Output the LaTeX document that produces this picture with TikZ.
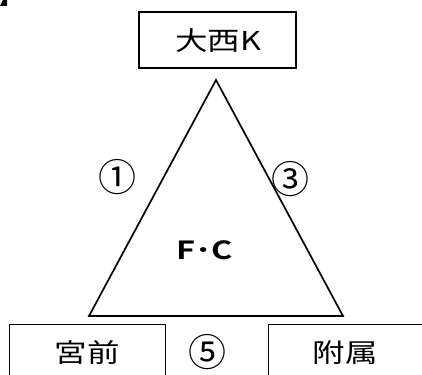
\documentclass[tikz,border=0pt]{standalone}
\usepackage{fontspec}
\setmainfont{Noto Sans CJK JP}
\newfontfamily\jpbold{Noto Sans CJK JP Bold}
\newcommand{\wide}[1]{\scalebox{1.25}[1]{#1}}
\newcommand{\wider}[1]{\scalebox{1.3}[1]{#1}}
\begin{document}
\begin{tikzpicture}[x=1pt,y=1pt,
  box/.style={draw=black, line width=1.3pt, fill=white, inner sep=0pt},
  lbl/.style={inner sep=0pt, font=\fontsize{26}{28}\selectfont},
  num/.style={inner sep=0pt, font=\fontsize{38}{40}\selectfont}]
\useasboundingbox (0,0) rectangle (422,374);
\clip (0,0) rectangle (422,374);
% corner mark
\fill[black] (0,368) -- (7,368) -- (7,374) -- (3,374) -- cycle;
% top box
\node[box, minimum width=157pt, minimum height=56pt] (top) at (217.5,334) {};
\node[lbl] (topt) at (218,333) {\wide{大西K}};
% triangle
\coordinate (apex) at (216,294);
\coordinate (bl) at (89,58);
\coordinate (br) at (343,58);
\draw[line width=1.7pt, line join=miter] (apex) -- (bl) -- (br) -- cycle;
% bottom boxes
\node[box, minimum width=156pt, minimum height=70pt, anchor=north west] (left) at (9,50) {};
\node[lbl] (leftt) at (87,21) {\wide{宮前}};
\node[box, minimum width=170pt, minimum height=70pt, anchor=north west] (right) at (268,50) {};
\node[lbl] (rightt) at (345,21) {\wide{附属}};
% labels
\node[num] (n1) at (117,197) {①};
\node[num] (n3) at (290,195) {③};
\node[num] (n5) at (207,22) {⑤};
\node[inner sep=0pt, font=\jpbold\fontsize{25}{27}\selectfont] (fc) at (205,124) {\wider{F･C}};
\end{tikzpicture}
\end{document}
